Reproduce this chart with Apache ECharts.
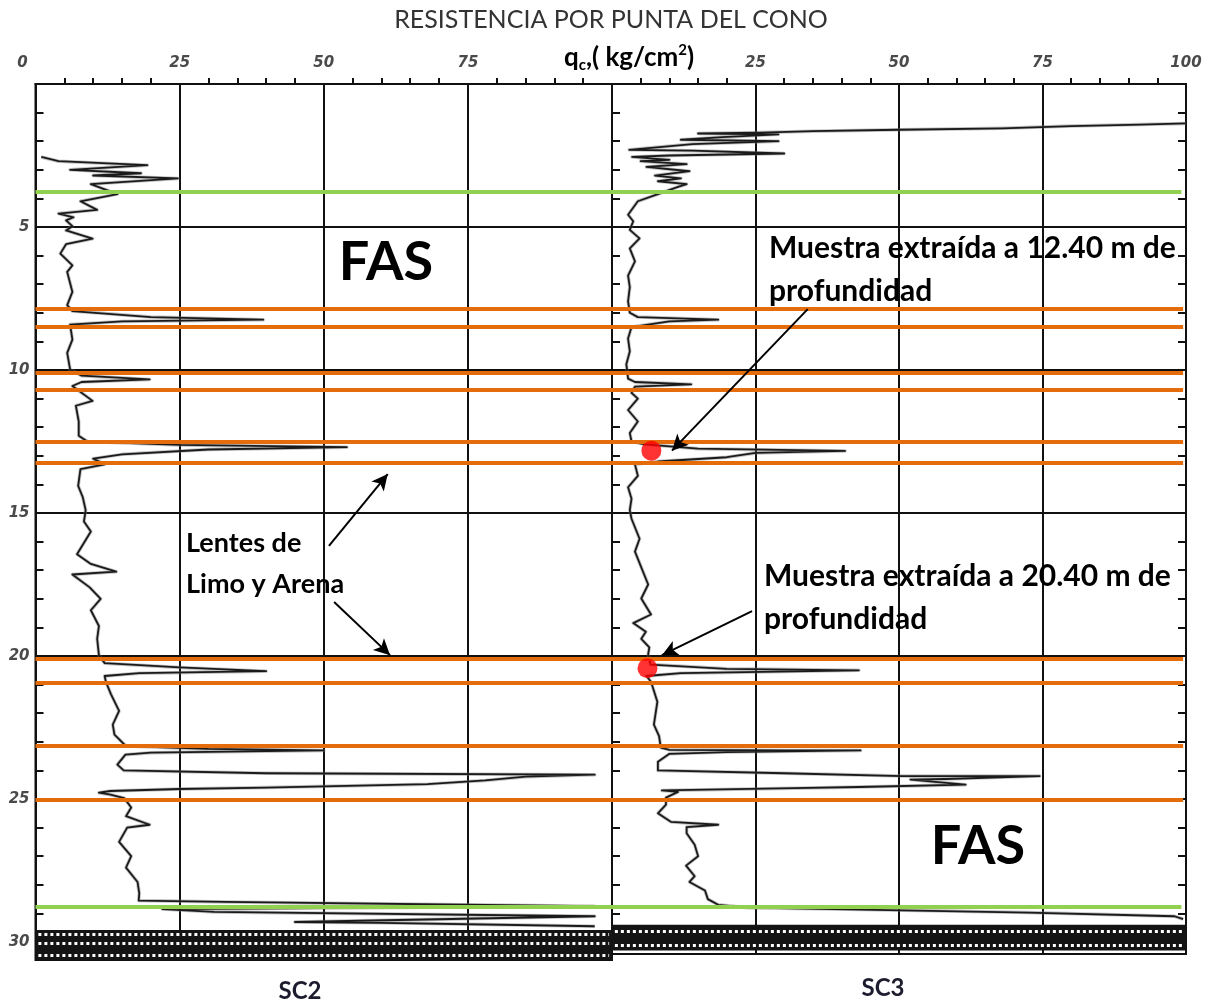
<!DOCTYPE html>
<html><head><meta charset="utf-8">
<script src="https://cdn.jsdelivr.net/npm/echarts@6/dist/echarts.min.js"></script>
<style>html,body{margin:0;padding:0;background:#fff}#c{width:1210px;height:1004px}</style>
</head><body><div id="c"></div>
<script>
// ---- data (q in kg/cm2, depth in m) ----
const sc2 = [[1,2.55],[4,2.7],[19.4,2.84],[6,3.0],[18.3,3.12],[10,3.2],[24.7,3.3],[9.6,3.5],[14.2,3.85],[7.8,4.1],[10.7,4.4],[4,4.53],[6.6,4.66],[5.3,4.77],[6.4,4.97],[5.3,5.12],[9.9,5.41],[5.3,5.6],[4.3,5.93],[6.4,6.34],[5.5,6.57],[6.4,7.27],[5.5,7.73],[6.4,7.94],[20,8.15],[39.5,8.24],[15,8.3],[6,8.41],[6.4,8.94],[5.5,9.4],[6,9.98],[8,10.2],[19.8,10.33],[8,10.42],[6.4,10.56],[9.9,11.08],[7,11.25],[7.5,11.8],[7.5,12.3],[9,12.5],[25,12.62],[54,12.7],[30,12.78],[15,12.95],[10,13.1],[12,13.3],[7.8,13.47],[7.4,14.05],[8.2,14.45],[8.7,14.9],[8.4,15.3],[9.6,15.65],[7.2,16.44],[9.6,16.78],[14,17.05],[6.4,17.15],[9.4,17.6],[11.3,18.0],[9.6,18.4],[11,18.95],[10.7,19.4],[11,19.97],[12,20.25],[25,20.4],[40,20.53],[18,20.6],[12,20.7],[12.2,20.9],[13.1,21.34],[14.5,21.92],[13.4,22.4],[13.7,22.75],[15.7,23.15],[30,23.25],[50,23.3],[20,23.38],[15.6,23.45],[14.2,23.8],[15.3,24.0],[40,24.1],[97,24.15],[85,24.22],[78,24.35],[68,24.48],[40,24.6],[25,24.65],[13,24.72],[11,24.78],[13,24.85],[15.4,24.97],[16.6,25.3],[15.7,25.6],[19.8,25.9],[15.9,26.0],[14.5,26.5],[16.6,27.0],[15.7,27.4],[17.7,27.9],[18,28.3],[17.9,28.55],[33,28.6],[97,28.75],[22,28.85],[31,28.95],[97,29.1],[45,29.3],[60,29.33],[97,29.45]];
const sc3 = [[100,1.38],[92,1.42],[80,1.47],[68,1.55],[50,1.6],[35,1.65],[26,1.7],[15,1.73],[29,1.76],[20,1.85],[12,1.95],[29,2.0],[14,2.1],[3,2.3],[14,2.33],[30,2.43],[10,2.5],[3.5,2.55],[10,2.65],[5,2.7],[13,2.8],[6,2.9],[13.5,3.05],[7.5,3.2],[12,3.3],[8,3.4],[13,3.5],[11.5,3.6],[8,3.85],[4.5,4.1],[2.8,4.57],[3.7,4.8],[3.1,5.1],[4.8,5.4],[3.1,5.75],[4,6.2],[2.8,6.7],[3.1,7.1],[2.8,7.6],[3.1,8.0],[4.5,8.15],[18.5,8.24],[10,8.3],[3.4,8.5],[2.8,8.9],[3.1,9.35],[2.5,9.8],[2.8,10.3],[4,10.42],[13.8,10.5],[4,10.58],[3.4,10.8],[4.5,11.0],[2.8,11.4],[4.5,11.8],[3.1,12.2],[3.4,12.5],[5.7,12.6],[15,12.75],[40.6,12.83],[25,12.9],[20,13.05],[8,13.2],[4,13.3],[4.5,13.7],[2.8,14.1],[3.4,14.5],[3.1,14.9],[3.4,15.2],[4.8,15.9],[4,16.35],[6.3,17.5],[5.1,17.99],[6.8,18.55],[3.7,18.85],[5.9,19.15],[5.1,19.4],[6.5,19.7],[6.3,19.94],[6.7,20.3],[20,20.45],[43,20.5],[12,20.6],[6,20.7],[6.8,20.9],[7.9,21.6],[7.3,22.4],[8.2,22.8],[8.5,23.2],[10,23.28],[30,23.3],[43.3,23.3],[20,23.36],[10,23.42],[8,23.7],[8,24.0],[30,24.1],[50.6,24.2],[74.5,24.2],[58,24.3],[52,24.32],[61.6,24.5],[43,24.58],[31.7,24.62],[8.7,24.7],[11.5,24.75],[9.4,24.95],[9.4,25.2],[8,25.5],[10.3,25.8],[18.5,25.9],[13,25.98],[13,26.2],[14.4,26.6],[15,27.0],[12.9,27.33],[14.4,27.7],[13.5,27.9],[16.2,28.2],[16.7,28.5],[18.5,28.7],[23.7,28.8],[38.5,28.85],[72.5,28.97],[98,29.1],[99.5,29.2]];
const orangeDepths = [7.87,8.49,10.09,10.70,12.51,13.23,20.08,20.93,23.14,25.03];
const greenDepths = [3.77,28.77];
const samplesSC3 = [[6.86,12.82],[6.18,20.43]];
const arrowsSC2 = [[[50.9,16.15],[61.1,13.64]],[[51.8,18.11],[61.5,19.97]]];
const arrowsSC3 = [[[34.1,7.87],[10.45,12.82]],[[24.4,18.43],[8.7,19.97]]];
const bandSC2 = [29.58,30.63];
const hatchSC2 = [29.72,30.05,30.45];
const bandSC3 = [29.4,30.3];
const hatchSC3 = [29.64,30.1];
const depthMaxSC2 = 30.63, depthMaxSC3 = 30.42;
const qMax = 100, qInterval = 25, depthInterval = 5;

const chart = echarts.init(document.getElementById('c'));
const labFont = {fontFamily:'DejaVu Sans', fontStyle:'italic', fontWeight:'bold', fontSize:15, color:'#4a4a4a'};
function xAx(gi, hideVals){
  return {type:'value', gridIndex:gi, position:'top', min:0, max:qMax, interval:qInterval,
    axisLine:{show:true, lineStyle:{color:'#111', width:2}},
    axisTick:{show:false},
    minorTick:{show:true, splitNumber:5, length:6, lineStyle:{color:'#111', width:2}},
    splitLine:{show:true, lineStyle:{color:'#111', width:2}},
    axisLabel:Object.assign({margin:13, formatter:v=>hideVals.includes(v)?'':(v===0?'{z|0}':String(v)),
      rich:{z:Object.assign({padding:[0,26,0,0]}, labFont)}}, labFont)};
}
function yAx(gi, max, pos, labels){
  return {type:'value', gridIndex:gi, position:pos, inverse:true, min:0, max:max, interval:depthInterval,
    axisLine:{show:true, lineStyle:{color:'#111', width:2}},
    axisTick:{show:true, inside:true, length:8, lineStyle:{color:'#111', width:2}},
    minorTick:{show:true, splitNumber:5, length:8, lineStyle:{color:'#111', width:2}},
    splitLine:{show:pos==='left', lineStyle:{color:'#111', width:2}},
    axisLabel:Object.assign({show:labels, margin:6, formatter:v=>(v>0 && v%5===0)?String(v):''}, labFont)};
}
function hLines(depths, x0, x1){
  return depths.map(d=>[{coord:[x0,d]},{coord:[x1,d]}]);
}
function helper(gi, z, markLine){
  return {type:'line', xAxisIndex:gi, yAxisIndex:gi, data:[], z:z, silent:true, markLine:Object.assign({silent:true, symbol:'none', label:{show:false}, animation:false}, markLine)};
}
function trace(name, gi, data, color, width, z){
  return {type:'line', name:name, xAxisIndex:gi, yAxisIndex:gi, data:data, showSymbol:false, z:z, silent:true,
    lineStyle:{color:color, width:width, join:'round'}};
}
const s2 = trace('SC2',0,sc2,'#1a1a1a',1.8,3);
s2.markArea = {silent:true, itemStyle:{color:'#141414'}, data:[[{coord:[0,bandSC2[0]]},{coord:[qMax,bandSC2[1]]}]]};
const s3 = trace('SC3',1,sc3,'#1a1a1a',1.8,3);
s3.markArea = {silent:true, itemStyle:{color:'#141414'}, data:[[{coord:[0,bandSC3[0]]},{coord:[qMax,bandSC3[1]]}]]};
const textBase = {verticalAlign:'middle', fill:'#000', fontFamily:'Lato', fontWeight:'bold'};
function txt(x,y,t,size,align,extra){
  return {type:'text', x:x, y:y, z:10, style:Object.assign({}, textBase, {text:t, fontSize:size, align:align}, extra||{})};
}
const option = {
  animation:false,
  grid:[
    {left:35.5, top:84, width:576.5, height:depthMaxSC2*28.6, show:true, borderColor:'#111', borderWidth:2},
    {left:612, top:84, width:574, height:depthMaxSC3*28.6, show:true, borderColor:'#111', borderWidth:2}
  ],
  xAxis:[xAx(0,[100]), xAx(1,[0])],
  yAxis:[yAx(0,depthMaxSC2,'left',true), yAx(1,depthMaxSC3,'left',false), yAx(1,depthMaxSC3,'right',false)],
  series:[
    trace('SC2 halo',0,sc2,'rgba(120,120,120,0.45)',3.5,2),
    trace('SC3 halo',1,sc3,'rgba(120,120,120,0.45)',3.5,2),
    s2, s3,
    helper(0,4,{lineStyle:{color:'#fff', width:3, type:[3,3]}, data:hLines(hatchSC2,0.5,99.5)}),
    helper(1,4,{lineStyle:{color:'#fff', width:3, type:[3,3]}, data:hLines(hatchSC3,0.5,99.5)}),
    helper(0,5,{lineStyle:{color:'#e46c0a', width:4, type:'solid'}, data:hLines(orangeDepths,0,qMax)}),
    helper(1,5,{lineStyle:{color:'#e46c0a', width:4, type:'solid'}, data:hLines(orangeDepths,0,99.5)}),
    helper(0,5,{lineStyle:{color:'#92d050', width:4, type:'solid'}, data:hLines(greenDepths,0,qMax)}),
    helper(1,5,{lineStyle:{color:'#92d050', width:4, type:'solid'}, data:hLines(greenDepths,0,99.2)}),
    {type:'scatter', xAxisIndex:1, yAxisIndex:1, data:samplesSC3, symbolSize:20, z:6, silent:true, itemStyle:{color:'#ff0000'}},
    helper(0,7,{symbol:['none','arrow'], symbolSize:[12,16], lineStyle:{color:'#000', width:2, type:'solid'},
      data:arrowsSC2.map(a=>[{coord:a[0]},{coord:a[1]}])}),
    helper(1,7,{symbol:['none','arrow'], symbolSize:[12,16], lineStyle:{color:'#000', width:2, type:'solid'},
      data:arrowsSC3.map(a=>[{coord:a[0]},{coord:a[1]}])})
  ],
  graphic:[
    txt(611,20,'RESISTENCIA POR PUNTA DEL CONO',25,'center',{fontWeight:'normal', fill:'#333'}),
    {type:'text', x:629, y:58, z:10, style:{text:'{a|q}{b|c}{a|,( kg/cm}{c|2}{a|)}', align:'center', verticalAlign:'middle',
      rich:{a:{fontFamily:'Lato', fontWeight:'bold', fontSize:26, fill:'#000', lineHeight:30},
            b:{fontFamily:'Lato', fontWeight:'bold', fontSize:15, fill:'#000', lineHeight:16, verticalAlign:'bottom'},
            c:{fontFamily:'Lato', fontWeight:'bold', fontSize:15, fill:'#000', lineHeight:16, verticalAlign:'top'}}}},
    txt(386,263,'FAS',54,'center'),
    txt(978,847,'FAS',54,'center'),
    txt(769,248,'Muestra extraída a 12.40 m de',30,'left'),
    txt(769,291,'profundidad',30,'left'),
    txt(764,576,'Muestra extraída a 20.40 m de',30,'left'),
    txt(764,619,'profundidad',30,'left'),
    txt(186,543,'Lentes de',27,'left'),
    txt(186,584,'Limo y Arena',27,'left'),
    txt(300,991,'SC2',24,'center',{fill:'#1c1c2e'}),
    txt(883,988,'SC3',24,'center',{fill:'#1c1c2e'})
  ]
};
chart.setOption(option);
</script></body></html>
